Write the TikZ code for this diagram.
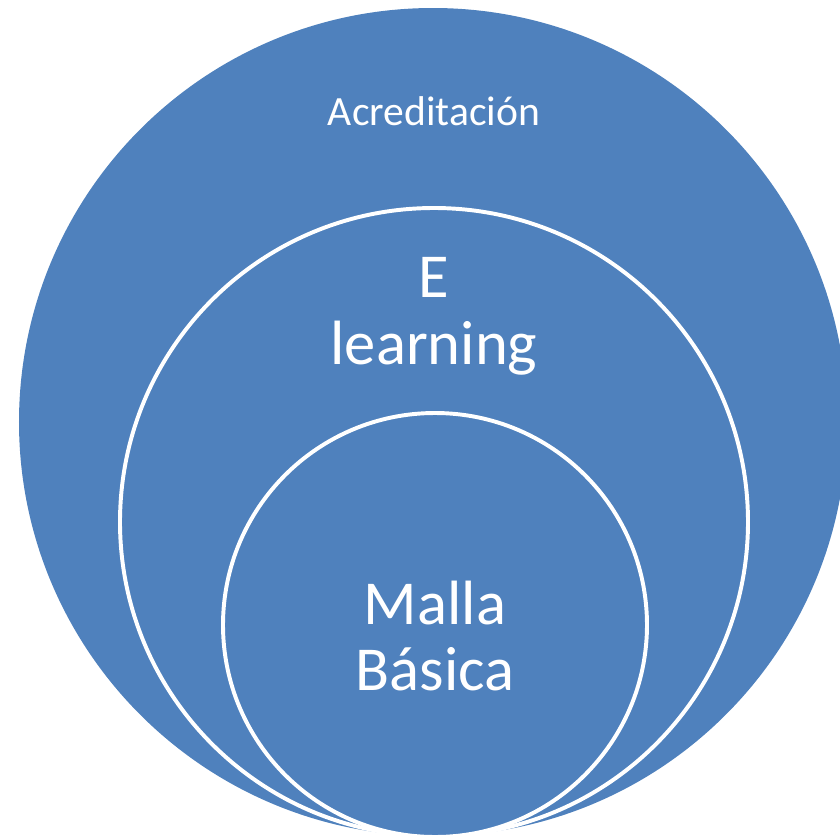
\documentclass[tikz,border=0pt]{standalone}
\usepackage{fontspec}
\setmainfont{Carlito}
\usepackage{xcolor}
\usepackage{tikz}
\usetikzlibrary{positioning}
\definecolor{RingBlue}{RGB}{79,129,189}

\begin{document}
\begin{tikzpicture}[
                % Style vòng tròn
                ring/.style={circle, draw=white, fill=RingBlue, line width=2.8pt, inner sep=0pt},
                % Style chữ
                smalltext/.style={text=white, font=\fontsize{29.6}{36}\selectfont, align=center},
                bigtext/.style={text=white, font=\fontsize{44.5}{47.6}\selectfont, align=center}
            ]
                \useasboundingbox (0,0) rectangle (21,-20.925);
                \clip (0,0) rectangle (21,-20.925);

                % --- VÒNG TRÒN ---
                \node[ring, draw=none, minimum size=20.7cm] (outer) at (10.825,-10.55) {};
                \node[ring, minimum size=15.7cm] (middle) at (10.85,-13.05) {};
                \node[ring, minimum size=10.6cm] (inner) at (10.875,-15.625) {};

                % --- NHÃN ---
                \node[smalltext] (acred) at (10.85,-2.775) {Acreditación};
                \node[bigtext] (elearn) at (10.85,-7.9) {E\\learning};
                \node[bigtext] (malla) at (10.875,-15.9) {Malla\\Básica};

            \end{tikzpicture}
\end{document}
